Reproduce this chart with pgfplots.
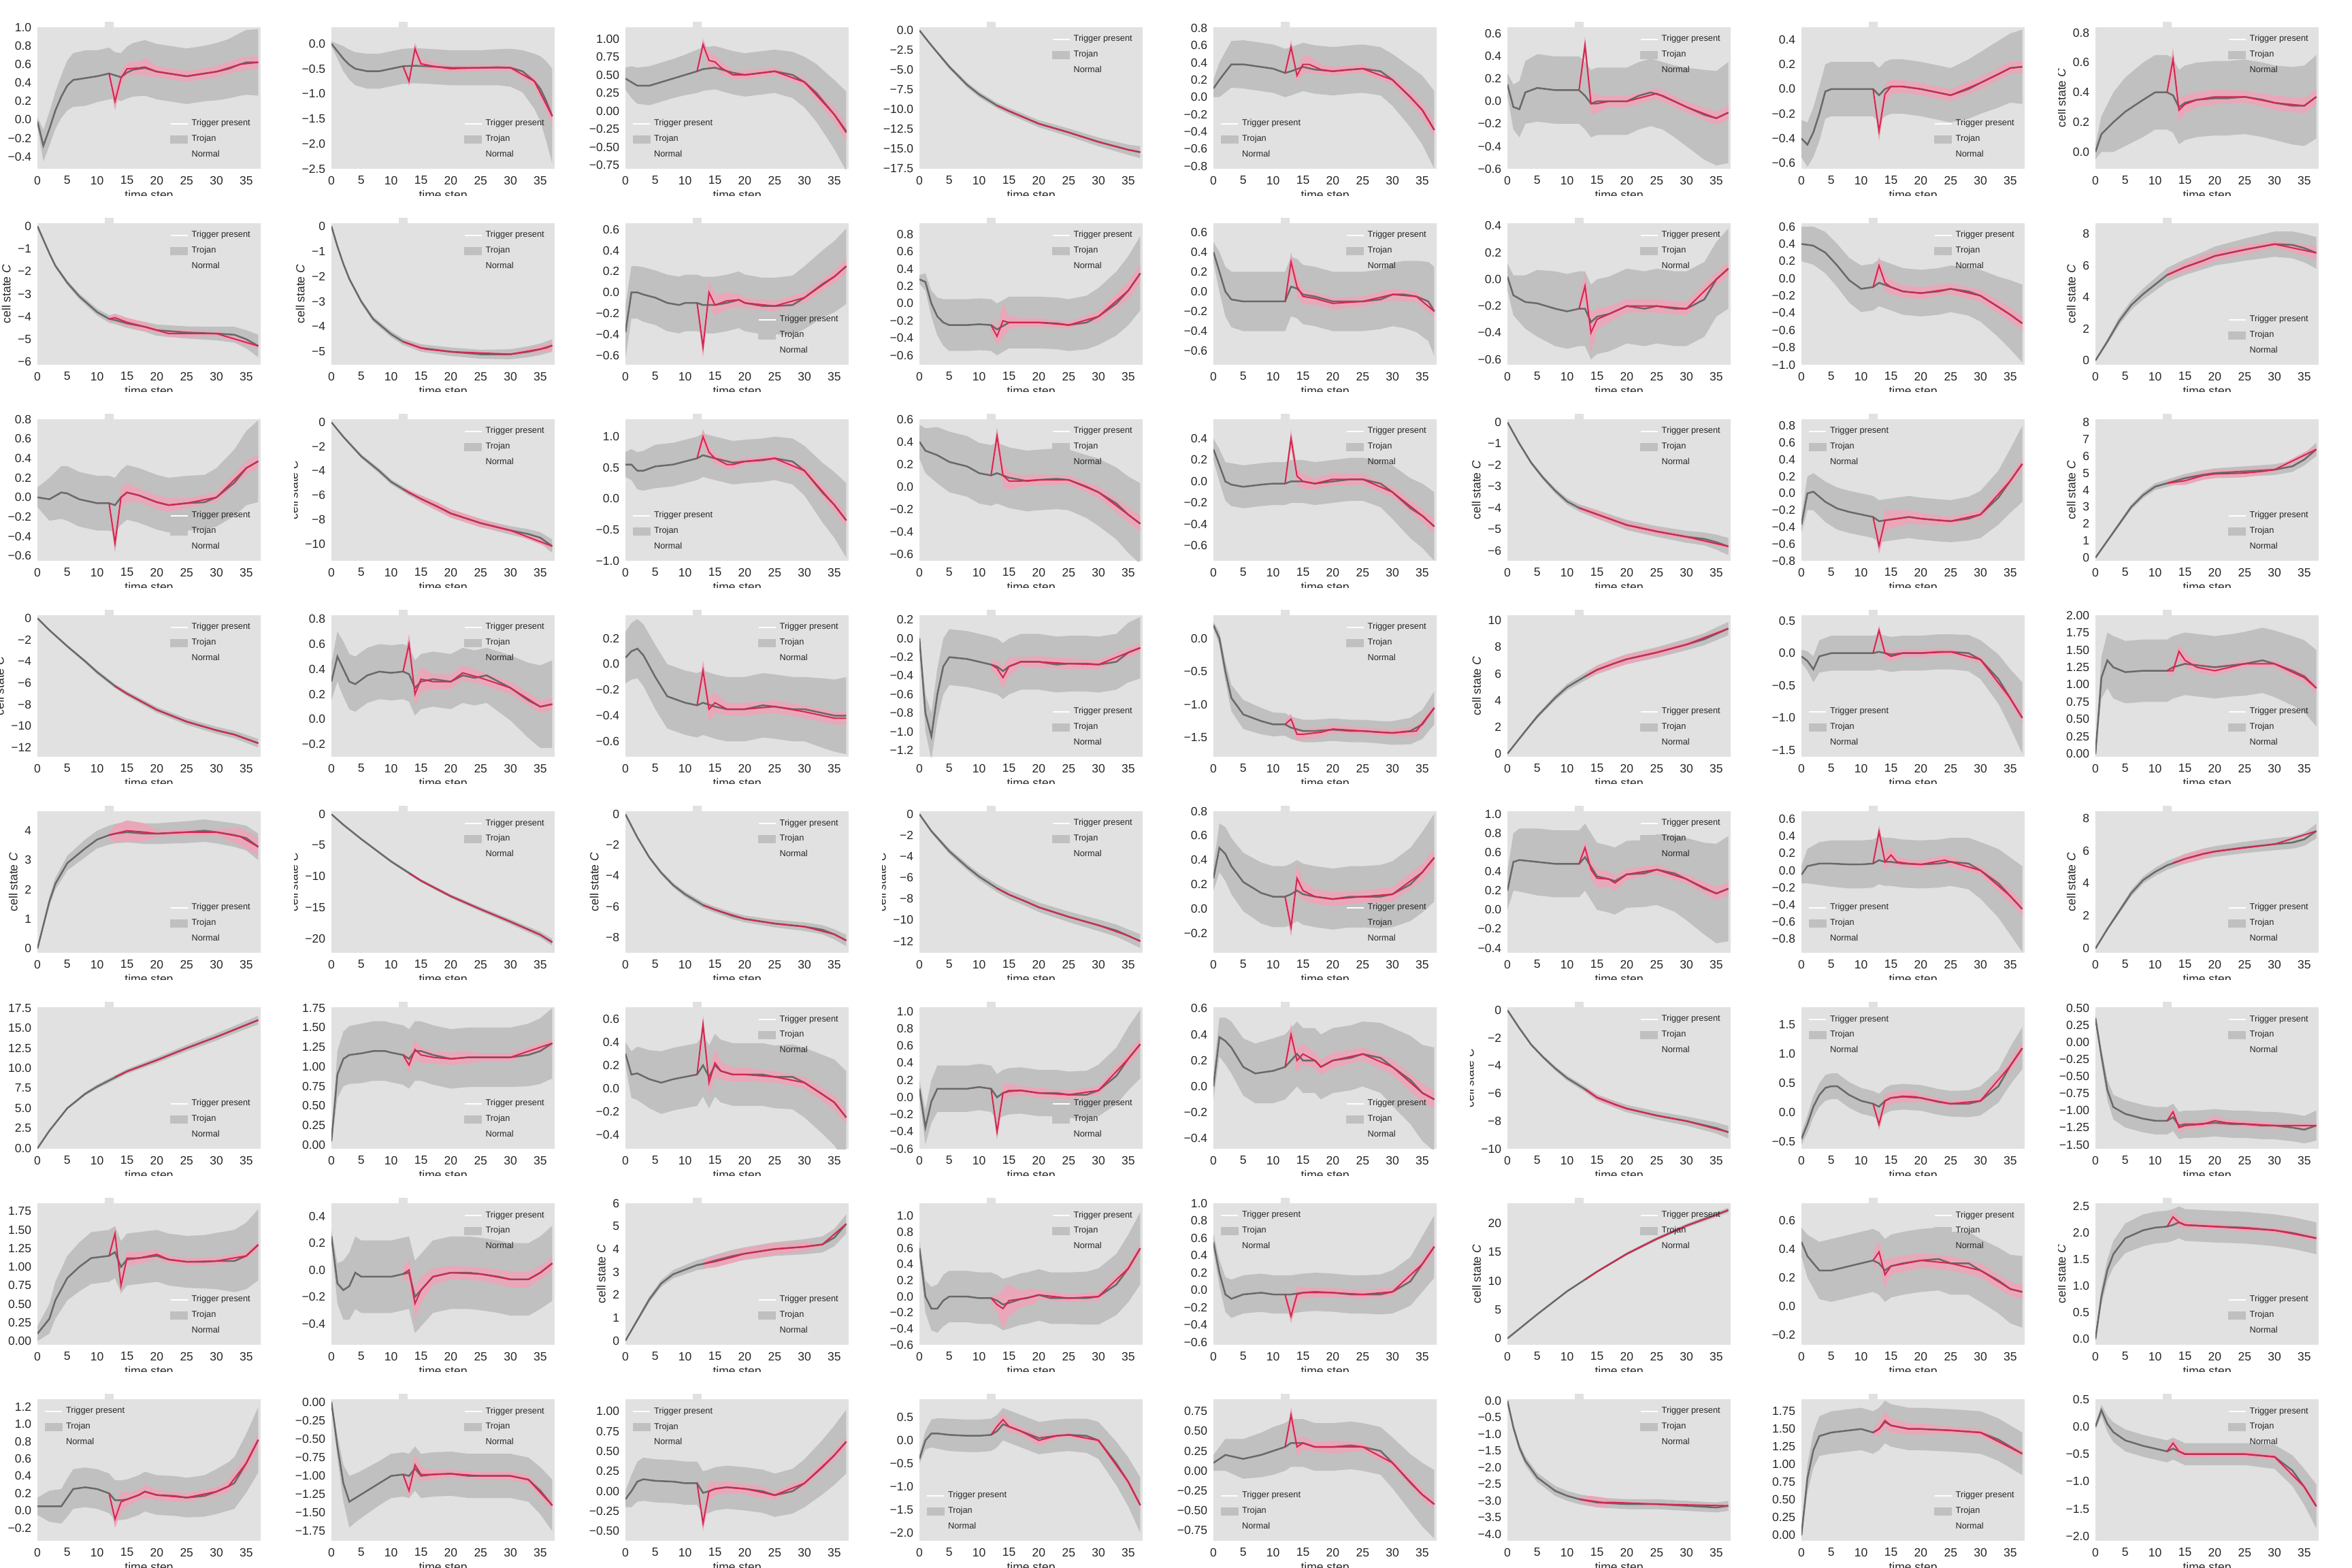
\documentclass[border=0pt]{standalone}
\usepackage{fontspec}
\setmainfont{Liberation Sans}
\usepackage{pgfplots}
\pgfplotsset{compat=1.18}
\usepgfplotslibrary{groupplots,fillbetween}
\usetikzlibrary{calc}

\definecolor{bgc}{RGB}{225,225,225}
\definecolor{bandc}{RGB}{192,192,192}
\definecolor{pinkc}{RGB}{232,168,185}
\definecolor{normc}{RGB}{105,105,105}
\definecolor{trojc}{RGB}{210,40,80}

% tick label with a real minus sign
\newcommand\mtick[1]{\pgfmathparse{(#1)<-0.00001}\ifdim\pgfmathresult pt>0.5pt −\fi\pgfmathparse{abs(#1)}\pgfmathprintnumber{\pgfmathresult}}

\pgfplotsset{
  LR/.style={legend style={at={(0.97,0.04)},anchor=south east}},
  UR/.style={legend style={at={(0.97,0.97)},anchor=north east}},
  UL/.style={legend style={at={(0.03,0.97)},anchor=north west}},
  LL/.style={legend style={at={(0.03,0.04)},anchor=south west}},
  Y/.style={ylabel={cell state \textit{C}}},
  P/.style={yticklabel style={/pgf/number format/.cd,fixed,fixed zerofill,precision=#1}},
}

% #1 ymin #2 ymax #3 yticks #4 decimals #5 legend place (+Y) #6 normal (x m s) #7 trojan (x t w)
\newcommand\subp[7]{%
\nextgroupplot[ymin=#1,ymax=#2,ytick={#3},P=#4,#5]
\addlegendimage{legend image code/.code={\draw[white,line width=0.7pt](0pt,0pt)--(10pt,0pt);}}\addlegendentry{Trigger present}
\addlegendimage{legend image code/.code={\fill[bandc](0pt,-2.2pt)rectangle(10pt,2.2pt);}}\addlegendentry{Trojan}
\addlegendimage{legend image code/.code={}}\addlegendentry{Normal}
\addplot[draw=none,forget plot,name path=nu] table[row sep=\\,y expr=\thisrow{m}+\thisrow{s}]{x m s\\#6};
\addplot[draw=none,forget plot,name path=nl] table[row sep=\\,y expr=\thisrow{m}-\thisrow{s}]{x m s\\#6};
\addplot[fill=bandc,draw=none,forget plot] fill between[of=nu and nl];
\addplot[draw=none,forget plot,name path=tu] table[row sep=\\,y expr=\thisrow{t}+\thisrow{w}]{x t w\\#7};
\addplot[draw=none,forget plot,name path=tl] table[row sep=\\,y expr=\thisrow{t}-\thisrow{w}]{x t w\\#7};
\addplot[fill=pinkc,draw=none,forget plot] fill between[of=tu and tl];
\addplot[normc,line width=1pt,forget plot] table[row sep=\\,y=m]{x m s\\#6};
\addplot[trojc,line width=0.8pt,forget plot] table[row sep=\\,y=t]{x t w\\#7};
}

\begin{document}
\begin{tikzpicture}
\begin{groupplot}[
  group style={group size=8 by 8,horizontal sep=41.6pt,vertical sep=32pt,group name=G},
  scale only axis,width=131.2pt,height=83.2pt,
  xmin=0,xmax=37.4,xtick={0,5,10,15,20,25,30,35},
  axis background/.style={fill=bgc},
  axis line style={draw=none},major tick length=0pt,
  tick label style={font=\fontsize{7}{8}\selectfont,text=black!85},
  xticklabel style={yshift=-0.8pt},
  /pgf/number format/assume math mode=true,
  scaled y ticks=false,
  yticklabel={\mtick{\tick}},
  xlabel={time step},xlabel shift=-3.6pt,ylabel shift=-2.6pt,
  label style={font=\fontsize{7}{8}\selectfont,text=black!85},
  legend style={draw=none,fill=none,font=\fontsize{5.1}{6}\selectfont,text=black!85,
    legend cell align=left,row sep=0pt,inner sep=0pt},
]
% ---------------- row 1
\subp{-0.53}{1.0}{-0.4,-0.2,0,0.2,0.4,0.6,0.8,1.0}{1}{LR}
{0 -0.02 0.05\\1 -0.28 0.17\\2 -0.1 0.18\\3 0.1 0.2\\4 0.25 0.23\\5 0.37 0.27\\6 0.43 0.29\\8 0.45 0.3\\10 0.47 0.28\\12 0.5 0.28\\13 0.48 0.25\\14 0.46 0.26\\15 0.51 0.28\\16 0.54 0.29\\18 0.56 0.3\\20 0.52 0.3\\22 0.5 0.3\\25 0.47 0.3\\28 0.5 0.3\\30 0.52 0.31\\32 0.55 0.32\\34 0.6 0.34\\35 0.62 0.35\\37 0.62 0.36\\}
{12 0.5 0.06\\13 0.2 0.1\\14 0.45 0.08\\15 0.55 0.07\\17 0.56 0.07\\18 0.57 0.1\\20 0.52 0.06\\25 0.47 0.06\\30 0.52 0.06\\34 0.6 0.07\\37 0.62 0.07\\}
\subp{-2.5}{0.33}{-2.5,-2.0,-1.5,-1.0,-0.5,0}{1}{LR}
{0 0.0 0.05\\1 -0.15 0.15\\2 -0.3 0.25\\3 -0.42 0.3\\4 -0.5 0.33\\6 -0.55 0.35\\8 -0.55 0.35\\10 -0.5 0.35\\12 -0.45 0.35\\14 -0.44 0.35\\16 -0.45 0.35\\20 -0.48 0.35\\25 -0.48 0.35\\28 -0.47 0.36\\30 -0.48 0.38\\32 -0.55 0.42\\34 -0.75 0.55\\35 -0.9 0.65\\36 -1.15 0.8\\37 -1.45 0.95\\}
{12 -0.45 0.08\\13 -0.75 0.1\\14 -0.1 0.12\\15 -0.4 0.1\\17 -0.45 0.08\\20 -0.5 0.07\\25 -0.48 0.06\\30 -0.48 0.06\\34 -0.75 0.1\\37 -1.45 0.15\\}
\subp{-0.8}{1.16}{-0.75,-0.5,-0.25,0,0.25,0.5,0.75,1.0}{2}{LL}
{0 0.45 0.15\\1 0.4 0.22\\2 0.35 0.25\\4 0.35 0.27\\6 0.4 0.27\\8 0.45 0.27\\10 0.5 0.28\\12 0.55 0.3\\13 0.58 0.3\\15 0.6 0.3\\18 0.53 0.3\\20 0.5 0.3\\22 0.52 0.3\\25 0.55 0.3\\28 0.5 0.32\\30 0.4 0.35\\32 0.25 0.4\\34 0.05 0.45\\35 -0.05 0.48\\37 -0.28 0.55\\}
{12 0.55 0.06\\13 0.92 0.08\\14 0.7 0.1\\15 0.68 0.1\\16 0.6 0.08\\18 0.5 0.06\\20 0.5 0.06\\25 0.55 0.05\\30 0.4 0.06\\35 -0.05 0.1\\37 -0.3 0.12\\}
\subp{-17.5}{0.4}{-17.5,-15,-12.5,-10,-7.5,-5,-2.5,0}{1}{UR}
{0 0 0.05\\2 -1.9 0.15\\5 -4.6 0.25\\8 -6.9 0.3\\10 -8.1 0.35\\13 -9.5 0.35\\15 -10.2 0.4\\20 -11.8 0.45\\25 -12.9 0.5\\30 -14.1 0.55\\35 -15.1 0.65\\37 -15.4 0.75\\}
{13 -9.5 0.05\\15 -10.2 0.05\\20 -11.8 0.05\\25 -12.9 0.05\\30 -14.1 0.05\\35 -15.1 0.05\\37 -15.4 0.05\\}
\subp{-0.83}{0.81}{-0.8,-0.6,-0.4,-0.2,0,0.2,0.4,0.6,0.8}{1}{LL}
{0 0.1 0.1\\1 0.2 0.2\\3 0.38 0.27\\5 0.38 0.28\\8 0.35 0.28\\10 0.33 0.28\\12 0.28 0.28\\13 0.3 0.28\\15 0.35 0.28\\17 0.32 0.28\\20 0.3 0.28\\23 0.32 0.28\\25 0.33 0.28\\28 0.3 0.28\\30 0.2 0.3\\33 0.0 0.35\\35 -0.15 0.4\\37 -0.38 0.45\\}
{12 0.28 0.06\\13 0.58 0.08\\14 0.25 0.08\\15 0.38 0.1\\16 0.38 0.1\\18 0.32 0.06\\20 0.3 0.05\\25 0.33 0.05\\30 0.2 0.05\\33 0.0 0.07\\35 -0.15 0.08\\37 -0.38 0.08\\}
\subp{-0.6}{0.66}{-0.6,-0.4,-0.2,0,0.2,0.4,0.6}{1}{UR}
{0 0.15 0.1\\1 -0.05 0.2\\2 -0.07 0.25\\3 0.08 0.28\\5 0.12 0.3\\8 0.1 0.3\\10 0.1 0.3\\12 0.1 0.3\\13 0.05 0.3\\14 -0.02 0.3\\15 0.0 0.3\\17 0.0 0.3\\20 0.0 0.3\\22 0.05 0.3\\24 0.08 0.3\\26 0.05 0.3\\28 0.0 0.32\\30 -0.05 0.35\\33 -0.12 0.4\\35 -0.15 0.42\\37 -0.1 0.45\\}
{12 0.1 0.05\\13 0.5 0.08\\14 -0.02 0.1\\15 -0.02 0.08\\17 0.0 0.05\\20 0.0 0.05\\25 0.07 0.05\\30 -0.05 0.05\\35 -0.15 0.06\\37 -0.1 0.06\\}
\subp{-0.645}{0.5}{-0.6,-0.4,-0.2,0,0.2,0.4}{1}{LR}
{0 -0.4 0.15\\1 -0.45 0.18\\2 -0.35 0.2\\3 -0.2 0.22\\4 -0.02 0.22\\5 0.0 0.22\\8 0.0 0.22\\10 0.0 0.22\\12 0.0 0.22\\13 -0.05 0.22\\14 0.0 0.22\\15 0.02 0.22\\17 0.02 0.22\\20 0.0 0.22\\23 -0.03 0.22\\25 -0.05 0.22\\28 0.0 0.24\\30 0.05 0.25\\33 0.12 0.27\\35 0.17 0.28\\37 0.18 0.3\\}
{12 0.0 0.05\\13 -0.34 0.08\\14 -0.04 0.08\\15 0.02 0.06\\17 0.02 0.05\\20 0.0 0.05\\25 -0.05 0.05\\30 0.05 0.05\\35 0.17 0.05\\37 0.18 0.05\\}
\subp{-0.113}{0.837}{0,0.2,0.4,0.6,0.8}{1}{UR,Y}
{0 0.0 0.05\\1 0.12 0.12\\3 0.2 0.2\\5 0.27 0.23\\8 0.35 0.25\\10 0.4 0.25\\12 0.4 0.25\\13 0.38 0.25\\14 0.3 0.25\\15 0.33 0.25\\17 0.35 0.25\\20 0.36 0.25\\22 0.36 0.25\\25 0.37 0.25\\28 0.35 0.25\\30 0.33 0.25\\33 0.31 0.26\\35 0.31 0.27\\37 0.37 0.28\\}
{12 0.4 0.06\\13 0.62 0.08\\14 0.28 0.08\\15 0.32 0.06\\17 0.35 0.05\\20 0.37 0.05\\25 0.37 0.04\\30 0.33 0.05\\35 0.31 0.05\\37 0.37 0.05\\}
% ---------------- row 2
\subp{-6.13}{0.13}{-6,-5,-4,-3,-2,-1,0}{0}{UR,Y}
{0 0 0.02\\1 -0.6 0.05\\2 -1.2 0.07\\3 -1.75 0.08\\5 -2.5 0.1\\7 -3.1 0.12\\10 -3.8 0.15\\12 -4.1 0.17\\13 -4.15 0.18\\15 -4.3 0.2\\18 -4.45 0.22\\20 -4.6 0.25\\25 -4.7 0.27\\30 -4.75 0.3\\33 -4.8 0.35\\35 -5.0 0.4\\37 -5.3 0.5\\}
{12 -4.1 0.15\\13 -4.05 0.18\\15 -4.25 0.2\\18 -4.45 0.2\\20 -4.6 0.1\\22 -4.75 0.15\\26 -4.75 0.15\\30 -4.75 0.1\\37 -5.3 0.1\\}
\subp{-5.52}{0.12}{-5,-4,-3,-2,-1,0}{0}{UR,Y}
{0 0 0.02\\1 -0.8 0.05\\2 -1.5 0.06\\3 -2.1 0.07\\5 -3.0 0.08\\7 -3.7 0.1\\10 -4.3 0.12\\12 -4.6 0.13\\15 -4.85 0.15\\20 -5.0 0.17\\25 -5.1 0.18\\30 -5.1 0.2\\33 -5.0 0.22\\35 -4.9 0.23\\37 -4.75 0.25\\}
{12 -4.6 0.05\\15 -4.85 0.12\\16 -4.9 0.05\\20 -5.0 0.05\\30 -5.1 0.05\\36 -4.85 0.15\\37 -4.75 0.2\\}
\subp{-0.69}{0.66}{-0.6,-0.4,-0.2,0,0.2,0.4,0.6}{1}{LR}
{0 -0.38 0.25\\1 0.0 0.25\\2 0.0 0.25\\3 -0.02 0.26\\5 -0.05 0.26\\7 -0.1 0.27\\9 -0.12 0.27\\10 -0.1 0.27\\12 -0.1 0.27\\13 -0.12 0.27\\15 -0.12 0.27\\17 -0.1 0.27\\19 -0.07 0.27\\20 -0.1 0.27\\23 -0.13 0.27\\25 -0.13 0.27\\28 -0.12 0.28\\30 -0.05 0.3\\33 0.08 0.32\\35 0.15 0.34\\37 0.25 0.36\\}
{12 -0.1 0.06\\13 -0.52 0.1\\14 0.0 0.12\\15 -0.12 0.1\\17 -0.08 0.08\\19 -0.07 0.06\\20 -0.1 0.05\\25 -0.13 0.05\\30 -0.05 0.05\\35 0.15 0.06\\37 0.25 0.07\\}
\subp{-0.71}{0.93}{-0.6,-0.4,-0.2,0,0.2,0.4,0.6,0.8}{1}{UR}
{0 0.28 0.05\\1 0.25 0.1\\2 0.0 0.15\\3 -0.15 0.22\\4 -0.22 0.27\\5 -0.25 0.3\\8 -0.25 0.3\\10 -0.24 0.3\\12 -0.25 0.3\\13 -0.3 0.3\\15 -0.22 0.3\\17 -0.22 0.3\\20 -0.22 0.3\\23 -0.23 0.3\\25 -0.25 0.3\\28 -0.22 0.31\\30 -0.15 0.33\\33 0.0 0.37\\35 0.15 0.4\\37 0.35 0.43\\}
{12 -0.25 0.06\\13 -0.38 0.1\\14 -0.2 0.2\\15 -0.22 0.08\\17 -0.22 0.05\\20 -0.22 0.05\\25 -0.25 0.04\\30 -0.15 0.06\\35 0.15 0.1\\37 0.35 0.1\\}
\subp{-0.74}{0.69}{-0.6,-0.4,-0.2,0,0.2,0.4,0.6}{1}{UR}
{0 0.4 0.1\\1 0.2 0.2\\2 0.0 0.25\\3 -0.08 0.28\\5 -0.1 0.3\\8 -0.1 0.3\\10 -0.1 0.3\\12 -0.1 0.3\\13 0.05 0.3\\14 0.03 0.3\\15 -0.03 0.3\\17 -0.05 0.3\\20 -0.1 0.3\\23 -0.1 0.3\\25 -0.1 0.3\\28 -0.08 0.3\\30 -0.03 0.32\\32 -0.03 0.34\\34 -0.05 0.36\\36 -0.1 0.4\\37 -0.2 0.45\\}
{12 -0.1 0.06\\13 0.3 0.1\\14 0.05 0.1\\15 -0.05 0.08\\17 -0.07 0.06\\20 -0.12 0.06\\25 -0.1 0.05\\30 -0.03 0.06\\34 -0.05 0.05\\37 -0.2 0.06\\}
\subp{-0.64}{0.42}{-0.6,-0.4,-0.2,0,0.2,0.4}{1}{UR}
{0 0.02 0.1\\1 -0.12 0.15\\3 -0.17 0.2\\5 -0.18 0.25\\8 -0.22 0.28\\10 -0.24 0.28\\12 -0.22 0.28\\13 -0.22 0.28\\14 -0.32 0.28\\15 -0.28 0.28\\17 -0.26 0.28\\20 -0.2 0.28\\23 -0.22 0.28\\25 -0.2 0.28\\28 -0.22 0.28\\30 -0.22 0.28\\33 -0.15 0.28\\35 0.0 0.28\\37 0.08 0.3\\}
{12 -0.22 0.05\\13 -0.05 0.1\\14 -0.4 0.15\\15 -0.3 0.08\\17 -0.26 0.06\\20 -0.2 0.05\\25 -0.2 0.05\\30 -0.22 0.05\\35 0.0 0.05\\37 0.08 0.05\\}
\subp{-1.0}{0.64}{-1.0,-0.8,-0.6,-0.4,-0.2,0,0.2,0.4,0.6}{1}{UR}
{0 0.4 0.2\\2 0.38 0.22\\4 0.3 0.24\\6 0.15 0.25\\8 -0.02 0.26\\10 -0.12 0.27\\12 -0.1 0.27\\13 -0.05 0.27\\15 -0.1 0.27\\17 -0.15 0.27\\20 -0.17 0.27\\23 -0.15 0.27\\25 -0.12 0.27\\28 -0.15 0.28\\30 -0.2 0.3\\33 -0.33 0.35\\35 -0.42 0.4\\37 -0.52 0.45\\}
{12 -0.1 0.06\\13 0.15 0.1\\14 -0.05 0.1\\15 -0.1 0.08\\17 -0.15 0.07\\20 -0.17 0.07\\25 -0.12 0.06\\30 -0.2 0.07\\35 -0.42 0.08\\37 -0.52 0.08\\}
\subp{-0.27}{8.67}{0,2,4,6,8}{0}{LR,Y}
{0 0 0.05\\2 1.2 0.15\\4 2.5 0.25\\6 3.5 0.3\\8 4.2 0.35\\10 4.8 0.4\\12 5.4 0.45\\15 5.9 0.5\\18 6.3 0.55\\20 6.6 0.6\\25 7.0 0.7\\30 7.35 0.8\\33 7.3 0.85\\35 7.1 0.9\\37 6.8 1.0\\}
{12 5.4 0.2\\15 5.9 0.3\\18 6.3 0.35\\20 6.6 0.3\\25 7.0 0.3\\30 7.35 0.2\\37 6.8 0.4\\}
% ---------------- row 3
\subp{-0.65}{0.8}{-0.6,-0.4,-0.2,0,0.2,0.4,0.6,0.8}{1}{LR}
{0 0.0 0.1\\2 -0.02 0.22\\4 0.05 0.27\\5 0.04 0.28\\7 -0.02 0.28\\10 -0.06 0.28\\12 -0.06 0.28\\13 -0.08 0.28\\14 0.0 0.28\\15 0.05 0.28\\17 0.02 0.28\\20 -0.05 0.28\\22 -0.08 0.28\\25 -0.06 0.28\\28 -0.05 0.28\\30 0.0 0.3\\33 0.15 0.34\\35 0.3 0.38\\37 0.37 0.42\\}
{12 -0.06 0.06\\13 -0.47 0.1\\14 0.0 0.1\\15 0.05 0.1\\17 0.02 0.07\\20 -0.05 0.07\\22 -0.08 0.07\\25 -0.06 0.05\\30 0.0 0.05\\35 0.3 0.07\\37 0.37 0.07\\}
\subp{-11.4}{0.25}{-10,-8,-6,-4,-2,0}{0}{UR,Y}
{0 0 0.05\\2 -1.2 0.1\\5 -2.8 0.15\\8 -4.0 0.2\\10 -4.9 0.2\\13 -5.8 0.22\\15 -6.3 0.25\\18 -7.0 0.27\\20 -7.5 0.3\\25 -8.3 0.32\\30 -8.9 0.35\\33 -9.2 0.4\\35 -9.5 0.45\\37 -10.2 0.55\\}
{12 -5.5 0.1\\15 -6.3 0.3\\18 -7.0 0.35\\20 -7.5 0.35\\25 -8.3 0.35\\30 -8.9 0.2\\37 -10.2 0.2\\}
\subp{-1.0}{1.28}{-1.0,-0.5,0,0.5,1.0}{1}{LL}
{0 0.55 0.2\\1 0.55 0.25\\2 0.45 0.3\\3 0.45 0.32\\5 0.52 0.35\\8 0.55 0.35\\10 0.6 0.35\\12 0.65 0.35\\13 0.7 0.35\\15 0.65 0.35\\18 0.58 0.35\\20 0.6 0.35\\23 0.62 0.35\\25 0.65 0.35\\28 0.6 0.37\\30 0.45 0.4\\33 0.1 0.48\\35 -0.1 0.53\\37 -0.35 0.6\\}
{12 0.65 0.06\\13 1.0 0.12\\14 0.75 0.1\\15 0.65 0.08\\17 0.55 0.08\\18 0.55 0.07\\20 0.6 0.05\\25 0.65 0.05\\30 0.45 0.08\\35 -0.1 0.1\\37 -0.35 0.1\\}
\subp{-0.66}{0.6}{-0.6,-0.4,-0.2,0,0.2,0.4,0.6}{1}{UR}
{0 0.4 0.15\\1 0.32 0.2\\3 0.28 0.25\\5 0.22 0.27\\8 0.18 0.27\\10 0.12 0.27\\12 0.1 0.27\\13 0.12 0.27\\15 0.08 0.27\\18 0.05 0.27\\20 0.06 0.27\\23 0.07 0.27\\25 0.06 0.27\\28 0.0 0.28\\30 -0.05 0.3\\33 -0.15 0.32\\35 -0.25 0.34\\37 -0.33 0.36\\}
{12 0.1 0.06\\13 0.45 0.08\\14 0.1 0.1\\15 0.05 0.08\\17 0.05 0.05\\20 0.06 0.05\\25 0.06 0.04\\30 -0.05 0.05\\35 -0.25 0.07\\37 -0.33 0.07\\}
\subp{-0.74}{0.58}{-0.6,-0.4,-0.2,0,0.2,0.4}{1}{UR}
{0 0.3 0.1\\1 0.15 0.15\\2 0.0 0.18\\3 -0.03 0.2\\5 -0.05 0.2\\8 -0.03 0.2\\10 -0.02 0.2\\12 -0.02 0.2\\13 0.0 0.2\\15 0.0 0.2\\17 -0.02 0.2\\20 0.0 0.2\\23 0.02 0.2\\25 0.02 0.2\\28 -0.02 0.22\\30 -0.1 0.25\\33 -0.25 0.28\\35 -0.32 0.3\\37 -0.42 0.32\\}
{12 -0.02 0.05\\13 0.4 0.08\\14 0.05 0.08\\15 0.0 0.07\\17 -0.02 0.05\\20 0.02 0.06\\25 0.02 0.05\\30 -0.1 0.05\\35 -0.32 0.06\\37 -0.42 0.07\\}
\subp{-6.47}{0.14}{-6,-5,-4,-3,-2,-1,0}{0}{UR,Y}
{0 0 0.03\\2 -1.0 0.06\\4 -1.9 0.08\\6 -2.6 0.1\\8 -3.2 0.12\\10 -3.7 0.15\\12 -4.0 0.17\\15 -4.3 0.2\\18 -4.6 0.22\\20 -4.8 0.24\\25 -5.1 0.25\\30 -5.35 0.28\\33 -5.45 0.3\\35 -5.6 0.35\\37 -5.8 0.4\\}
{12 -4.0 0.1\\15 -4.3 0.2\\18 -4.6 0.15\\20 -4.8 0.15\\25 -5.1 0.15\\30 -5.35 0.1\\37 -5.8 0.1\\}
\subp{-0.8}{0.88}{-0.8,-0.6,-0.4,-0.2,0,0.2,0.4,0.6,0.8}{1}{UL}
{0 -0.37 0.1\\1 0.0 0.2\\2 0.02 0.22\\4 -0.1 0.24\\6 -0.18 0.25\\8 -0.22 0.25\\10 -0.25 0.25\\12 -0.28 0.25\\13 -0.33 0.25\\14 -0.32 0.25\\16 -0.3 0.25\\18 -0.28 0.25\\20 -0.3 0.25\\23 -0.32 0.25\\25 -0.33 0.25\\28 -0.3 0.26\\30 -0.25 0.28\\33 -0.05 0.32\\35 0.15 0.38\\37 0.35 0.45\\}
{12 -0.28 0.05\\13 -0.62 0.1\\14 -0.32 0.12\\16 -0.3 0.1\\18 -0.28 0.08\\20 -0.3 0.07\\25 -0.33 0.05\\30 -0.25 0.05\\35 0.15 0.06\\37 0.35 0.06\\}
\subp{-0.18}{8.18}{0,1,2,3,4,5,6,7,8}{0}{LR,Y}
{0 0 0.03\\2 1.0 0.08\\4 2.0 0.12\\6 3.0 0.15\\8 3.7 0.18\\10 4.2 0.2\\12 4.4 0.22\\15 4.7 0.25\\18 4.9 0.27\\20 5.0 0.28\\25 5.1 0.3\\30 5.2 0.32\\33 5.4 0.33\\35 5.8 0.35\\37 6.4 0.4\\}
{12 4.4 0.1\\15 4.55 0.25\\18 4.85 0.25\\20 4.95 0.25\\25 5.0 0.25\\28 5.1 0.2\\30 5.2 0.1\\37 6.4 0.2\\}
% ---------------- row 4
\subp{-12.86}{0.28}{-12,-10,-8,-6,-4,-2,0}{0}{UR,Y}
{0 0 0.03\\2 -1.1 0.08\\5 -2.6 0.12\\8 -4.0 0.15\\10 -5.0 0.18\\13 -6.3 0.2\\15 -7.0 0.22\\18 -7.9 0.25\\20 -8.5 0.27\\25 -9.6 0.3\\30 -10.4 0.33\\33 -10.8 0.35\\35 -11.2 0.37\\37 -11.6 0.4\\}
{13 -6.3 0.05\\15 -7.0 0.05\\18 -7.9 0.05\\20 -8.5 0.05\\25 -9.6 0.05\\30 -10.4 0.05\\33 -10.8 0.05\\35 -11.2 0.05\\37 -11.6 0.05\\}
\subp{-0.3}{0.83}{-0.2,0,0.2,0.4,0.6,0.8}{1}{UR}
{0 0.3 0.15\\1 0.5 0.2\\2 0.4 0.22\\3 0.3 0.22\\4 0.28 0.22\\6 0.35 0.22\\8 0.38 0.22\\10 0.37 0.22\\12 0.38 0.22\\13 0.36 0.22\\14 0.25 0.22\\15 0.3 0.22\\17 0.32 0.22\\20 0.3 0.22\\22 0.35 0.22\\24 0.33 0.22\\26 0.35 0.22\\28 0.3 0.24\\30 0.25 0.26\\33 0.15 0.3\\35 0.1 0.33\\37 0.12 0.35\\}
{12 0.38 0.05\\13 0.6 0.08\\14 0.2 0.1\\15 0.32 0.1\\17 0.3 0.06\\20 0.3 0.06\\22 0.37 0.06\\25 0.33 0.05\\30 0.25 0.05\\35 0.1 0.05\\37 0.12 0.05\\}
\subp{-0.72}{0.38}{-0.6,-0.4,-0.2,0,0.2}{1}{UR}
{0 0.05 0.2\\1 0.1 0.22\\2 0.12 0.23\\3 0.07 0.24\\5 -0.1 0.25\\7 -0.25 0.25\\10 -0.3 0.25\\12 -0.32 0.25\\13 -0.3 0.25\\15 -0.33 0.25\\17 -0.35 0.25\\20 -0.35 0.25\\23 -0.32 0.25\\25 -0.33 0.25\\28 -0.35 0.25\\30 -0.35 0.25\\33 -0.38 0.27\\35 -0.4 0.28\\37 -0.4 0.3\\}
{12 -0.32 0.05\\13 -0.05 0.08\\14 -0.35 0.1\\15 -0.3 0.08\\17 -0.35 0.05\\20 -0.35 0.05\\25 -0.33 0.05\\30 -0.37 0.05\\35 -0.42 0.05\\37 -0.42 0.05\\}
\subp{-1.27}{0.25}{-1.2,-1.0,-0.8,-0.6,-0.4,-0.2,0,0.2}{1}{LR}
{0 0.0 0.05\\1 -0.8 0.2\\2 -1.05 0.25\\3 -0.6 0.28\\4 -0.3 0.3\\5 -0.2 0.3\\8 -0.22 0.3\\10 -0.25 0.3\\12 -0.28 0.3\\13 -0.3 0.3\\14 -0.35 0.3\\15 -0.3 0.3\\17 -0.25 0.3\\20 -0.25 0.3\\23 -0.28 0.3\\25 -0.27 0.3\\28 -0.27 0.3\\30 -0.28 0.3\\33 -0.25 0.3\\35 -0.15 0.32\\37 -0.1 0.33\\}
{12 -0.28 0.05\\13 -0.32 0.08\\14 -0.42 0.12\\15 -0.3 0.1\\17 -0.25 0.05\\20 -0.25 0.06\\25 -0.27 0.06\\30 -0.28 0.05\\35 -0.15 0.05\\37 -0.1 0.05\\}
\subp{-1.79}{0.35}{-1.5,-1.0,-0.5,0}{1}{UR}
{0 0.2 0.05\\1 0.0 0.1\\2 -0.5 0.15\\3 -0.9 0.2\\5 -1.15 0.22\\8 -1.25 0.2\\10 -1.3 0.18\\12 -1.3 0.17\\13 -1.35 0.17\\15 -1.4 0.17\\17 -1.4 0.17\\20 -1.38 0.17\\23 -1.4 0.17\\25 -1.4 0.17\\28 -1.42 0.17\\30 -1.43 0.18\\33 -1.4 0.2\\35 -1.3 0.22\\37 -1.05 0.25\\}
{12 -1.3 0.05\\13 -1.22 0.08\\14 -1.45 0.1\\15 -1.45 0.08\\18 -1.42 0.07\\20 -1.37 0.06\\25 -1.4 0.05\\30 -1.43 0.05\\34 -1.4 0.08\\37 -1.05 0.05\\}
\subp{-0.23}{10.4}{0,2,4,6,8,10}{0}{LR,Y}
{0 0 0.03\\3 1.7 0.1\\5 2.8 0.15\\8 4.2 0.2\\10 5.0 0.25\\13 5.8 0.3\\15 6.3 0.33\\18 6.8 0.36\\20 7.1 0.38\\25 7.6 0.4\\30 8.2 0.43\\33 8.6 0.45\\35 9.0 0.48\\37 9.4 0.5\\}
{13 5.8 0.1\\15 6.3 0.3\\18 6.8 0.35\\20 7.1 0.35\\25 7.6 0.3\\30 8.2 0.2\\37 9.4 0.1\\}
\subp{-1.6}{0.585}{-1.5,-1.0,-0.5,0,0.5}{1}{LL}
{0 -0.05 0.1\\1 -0.12 0.15\\2 -0.25 0.2\\3 -0.05 0.25\\5 0.0 0.27\\8 0.0 0.27\\10 0.0 0.27\\12 0.0 0.27\\13 0.02 0.27\\14 0.0 0.27\\15 -0.02 0.27\\17 0.0 0.27\\20 0.0 0.27\\23 0.02 0.27\\25 0.02 0.27\\28 0.0 0.28\\30 -0.1 0.3\\33 -0.4 0.38\\35 -0.7 0.45\\37 -1.0 0.55\\}
{12 0.0 0.05\\13 0.35 0.08\\14 0.0 0.1\\15 -0.05 0.08\\17 0.0 0.06\\20 0.0 0.06\\25 0.02 0.05\\30 -0.1 0.06\\35 -0.7 0.08\\37 -1.0 0.08\\}
\subp{-0.04}{2.0}{0,0.25,0.5,0.75,1.0,1.25,1.5,1.75,2.0}{2}{LR}
{0 0.0 0.05\\1 1.1 0.3\\2 1.35 0.4\\3 1.25 0.45\\5 1.18 0.45\\8 1.2 0.45\\10 1.2 0.45\\12 1.2 0.45\\13 1.25 0.45\\15 1.3 0.45\\17 1.28 0.45\\20 1.25 0.45\\23 1.28 0.45\\25 1.3 0.46\\28 1.35 0.47\\30 1.3 0.48\\33 1.2 0.5\\35 1.12 0.52\\37 0.95 0.55\\}
{12 1.2 0.05\\13 1.2 0.08\\14 1.48 0.1\\15 1.35 0.1\\17 1.25 0.07\\20 1.2 0.07\\25 1.3 0.05\\30 1.3 0.05\\35 1.1 0.07\\37 0.95 0.07\\}
% ---------------- row 5
\subp{-0.14}{4.66}{0,1,2,3,4}{0}{LR,Y}
{0 0 0.03\\1 0.8 0.1\\2 1.6 0.15\\3 2.2 0.2\\5 2.9 0.25\\8 3.4 0.3\\10 3.7 0.3\\12 3.85 0.32\\13 3.9 0.33\\15 3.95 0.35\\18 3.9 0.35\\20 3.9 0.35\\25 3.95 0.37\\28 4.0 0.38\\30 3.95 0.38\\33 3.85 0.4\\35 3.75 0.42\\37 3.45 0.45\\}
{12 3.85 0.1\\13 3.9 0.3\\15 4.0 0.35\\18 3.95 0.3\\20 3.9 0.1\\25 3.95 0.1\\30 3.95 0.1\\34 3.8 0.3\\37 3.45 0.3\\}
\subp{-22.3}{0.48}{-20,-15,-10,-5,0}{0}{UR,Y}
{0 0 0.05\\2 -1.7 0.1\\5 -4.0 0.15\\10 -7.6 0.2\\15 -10.7 0.25\\20 -13.2 0.3\\25 -15.3 0.35\\30 -17.3 0.4\\35 -19.4 0.5\\37 -20.6 0.55\\}
{13 -9.5 0.05\\15 -10.7 0.05\\20 -13.2 0.05\\25 -15.3 0.05\\30 -17.3 0.05\\35 -19.4 0.05\\37 -20.6 0.05\\}
\subp{-9.0}{0.2}{-8,-6,-4,-2,0}{0}{UR,Y}
{0 0 0.03\\2 -1.5 0.07\\4 -2.8 0.1\\6 -3.8 0.12\\8 -4.6 0.15\\10 -5.2 0.17\\13 -5.9 0.2\\15 -6.2 0.2\\18 -6.6 0.22\\20 -6.8 0.22\\25 -7.1 0.25\\30 -7.3 0.28\\33 -7.5 0.3\\35 -7.8 0.33\\37 -8.2 0.37\\}
{13 -5.9 0.05\\15 -6.2 0.05\\20 -6.8 0.05\\25 -7.1 0.05\\30 -7.3 0.05\\35 -7.8 0.05\\37 -8.2 0.05\\}
\subp{-13.1}{0.28}{-12,-10,-8,-6,-4,-2,0}{0}{UR,Y}
{0 0 0.05\\2 -1.6 0.15\\5 -3.5 0.25\\8 -5.0 0.3\\10 -5.9 0.33\\13 -7.0 0.37\\15 -7.6 0.4\\18 -8.3 0.42\\20 -8.8 0.45\\25 -9.7 0.5\\30 -10.5 0.55\\33 -11.0 0.57\\35 -11.5 0.6\\37 -12.0 0.65\\}
{13 -7.0 0.05\\15 -7.6 0.05\\18 -8.3 0.05\\20 -8.8 0.05\\25 -9.7 0.05\\30 -10.5 0.05\\35 -11.5 0.05\\37 -12.0 0.05\\}
\subp{-0.36}{0.8}{-0.2,0,0.2,0.4,0.6,0.8}{1}{LR}
{0 0.25 0.1\\1 0.5 0.2\\2 0.45 0.22\\3 0.35 0.23\\5 0.22 0.24\\8 0.13 0.25\\10 0.1 0.25\\12 0.1 0.25\\13 0.12 0.25\\14 0.15 0.25\\15 0.12 0.25\\17 0.1 0.25\\20 0.08 0.25\\23 0.1 0.25\\25 0.1 0.25\\28 0.1 0.26\\30 0.12 0.27\\33 0.2 0.3\\35 0.3 0.33\\37 0.42 0.36\\}
{12 0.1 0.05\\13 -0.15 0.08\\14 0.25 0.12\\15 0.15 0.08\\17 0.1 0.06\\20 0.08 0.06\\25 0.1 0.05\\30 0.12 0.06\\35 0.3 0.07\\37 0.42 0.07\\}
\subp{-0.45}{1.03}{-0.4,-0.2,0,0.2,0.4,0.6,0.8,1.0}{1}{UR}
{0 0.2 0.2\\1 0.5 0.3\\2 0.52 0.33\\5 0.5 0.35\\8 0.48 0.35\\10 0.48 0.35\\12 0.48 0.35\\13 0.55 0.35\\14 0.45 0.35\\15 0.35 0.35\\17 0.32 0.35\\18 0.3 0.35\\20 0.37 0.35\\23 0.38 0.35\\25 0.42 0.37\\28 0.38 0.4\\30 0.32 0.43\\33 0.22 0.48\\35 0.17 0.52\\37 0.22 0.55\\}
{12 0.48 0.05\\13 0.65 0.08\\14 0.42 0.1\\15 0.33 0.1\\17 0.32 0.08\\18 0.28 0.08\\20 0.37 0.06\\25 0.42 0.05\\30 0.32 0.05\\35 0.17 0.07\\37 0.22 0.07\\}
\subp{-0.96}{0.69}{-0.8,-0.6,-0.4,-0.2,0,0.2,0.4,0.6}{1}{LL}
{0 -0.05 0.1\\1 0.05 0.2\\3 0.08 0.25\\5 0.08 0.27\\8 0.07 0.28\\10 0.07 0.28\\12 0.08 0.28\\13 0.12 0.28\\14 0.1 0.28\\15 0.1 0.28\\17 0.08 0.28\\20 0.07 0.28\\23 0.08 0.28\\25 0.1 0.28\\28 0.08 0.3\\30 0.0 0.33\\33 -0.15 0.4\\35 -0.3 0.45\\37 -0.45 0.5\\}
{12 0.08 0.05\\13 0.45 0.08\\14 0.1 0.1\\15 0.18 0.1\\16 0.1 0.06\\18 0.08 0.05\\20 0.07 0.05\\24 0.12 0.06\\30 0.0 0.05\\35 -0.3 0.08\\37 -0.45 0.08\\}
\subp{-0.26}{8.42}{0,2,4,6,8}{0}{LR,Y}
{0 0 0.03\\2 1.2 0.1\\4 2.3 0.15\\6 3.4 0.2\\8 4.2 0.22\\10 4.7 0.25\\12 5.1 0.27\\15 5.5 0.3\\18 5.8 0.32\\20 5.95 0.33\\25 6.2 0.35\\30 6.4 0.37\\33 6.5 0.38\\35 6.7 0.4\\37 7.2 0.45\\}
{13 5.25 0.1\\15 5.5 0.3\\18 5.8 0.3\\20 5.95 0.1\\30 6.4 0.05\\37 7.2 0.05\\}
% ---------------- row 6
\subp{-0.05}{17.6}{0,2.5,5,7.5,10,12.5,15,17.5}{1}{LR}
{0 0 0.03\\2 2.2 0.1\\5 5.0 0.15\\8 6.8 0.2\\10 7.7 0.25\\15 9.6 0.3\\20 11.0 0.35\\25 12.5 0.4\\30 13.9 0.45\\35 15.4 0.5\\37 16.0 0.55\\}
{13 8.9 0.05\\15 9.6 0.05\\20 11.0 0.05\\25 12.5 0.05\\30 13.9 0.05\\35 15.4 0.05\\37 16.0 0.05\\}
\subp{-0.05}{1.76}{0,0.25,0.5,0.75,1.0,1.25,1.5,1.75}{2}{LR}
{0 0.05 0.05\\1 0.9 0.3\\2 1.1 0.35\\3 1.15 0.37\\5 1.17 0.38\\7 1.2 0.38\\9 1.2 0.38\\10 1.18 0.38\\12 1.15 0.38\\13 1.1 0.38\\14 1.2 0.38\\15 1.2 0.38\\17 1.15 0.38\\20 1.1 0.38\\23 1.12 0.38\\25 1.12 0.38\\28 1.12 0.38\\30 1.12 0.38\\33 1.15 0.4\\35 1.2 0.42\\37 1.3 0.45\\}
{12 1.15 0.05\\13 1.02 0.1\\14 1.22 0.12\\15 1.15 0.1\\17 1.12 0.08\\20 1.1 0.08\\23 1.12 0.08\\25 1.12 0.05\\30 1.12 0.05\\37 1.3 0.05\\}
\subp{-0.52}{0.7}{-0.4,-0.2,0,0.2,0.4,0.6}{1}{UR}
{0 0.3 0.1\\1 0.12 0.2\\2 0.13 0.23\\4 0.08 0.25\\6 0.05 0.27\\8 0.08 0.27\\10 0.1 0.27\\12 0.12 0.27\\13 0.2 0.27\\14 0.1 0.27\\15 0.2 0.27\\16 0.15 0.27\\18 0.12 0.27\\20 0.12 0.27\\23 0.12 0.27\\25 0.1 0.27\\28 0.1 0.28\\30 0.05 0.3\\33 -0.05 0.34\\35 -0.12 0.37\\37 -0.25 0.4\\}
{12 0.12 0.05\\13 0.55 0.08\\14 0.05 0.1\\15 0.22 0.12\\16 0.15 0.08\\18 0.12 0.06\\20 0.12 0.06\\25 0.1 0.05\\30 0.05 0.05\\35 -0.12 0.06\\37 -0.25 0.06\\}
\subp{-0.6}{1.05}{-0.6,-0.4,-0.2,0,0.2,0.4,0.6,0.8,1.0}{1}{LR}
{0 0.1 0.1\\1 -0.35 0.2\\2 -0.05 0.25\\3 0.1 0.27\\5 0.1 0.27\\8 0.1 0.27\\10 0.12 0.27\\12 0.1 0.27\\13 0.0 0.27\\14 0.05 0.27\\15 0.07 0.27\\17 0.08 0.27\\20 0.05 0.27\\23 0.05 0.27\\25 0.03 0.27\\28 0.03 0.28\\30 0.08 0.3\\33 0.25 0.33\\35 0.45 0.37\\37 0.62 0.4\\}
{12 0.1 0.05\\13 -0.4 0.1\\14 0.05 0.1\\15 0.08 0.08\\17 0.08 0.05\\20 0.05 0.06\\25 0.03 0.05\\30 0.08 0.05\\35 0.45 0.07\\37 0.62 0.07\\}
\subp{-0.48}{0.61}{-0.4,-0.2,0,0.2,0.4,0.6}{1}{LR}
{0 0.0 0.1\\1 0.38 0.15\\2 0.35 0.18\\3 0.3 0.2\\5 0.15 0.22\\7 0.1 0.23\\10 0.12 0.25\\12 0.15 0.25\\13 0.2 0.25\\14 0.25 0.25\\15 0.2 0.25\\17 0.2 0.25\\18 0.15 0.25\\20 0.2 0.25\\23 0.22 0.25\\25 0.25 0.25\\28 0.22 0.27\\30 0.15 0.3\\33 0.05 0.34\\35 -0.05 0.37\\37 -0.1 0.4\\}
{12 0.15 0.05\\13 0.4 0.08\\14 0.2 0.1\\15 0.25 0.08\\17 0.2 0.06\\18 0.15 0.06\\20 0.2 0.06\\25 0.25 0.05\\30 0.15 0.06\\35 -0.05 0.07\\37 -0.1 0.07\\}
\subp{-10}{0.21}{-10,-8,-6,-4,-2,0}{0}{UR,Y}
{0 0 0.03\\2 -1.3 0.08\\4 -2.5 0.1\\6 -3.4 0.12\\8 -4.2 0.15\\10 -4.9 0.18\\13 -5.7 0.2\\15 -6.3 0.22\\18 -6.8 0.25\\20 -7.1 0.27\\25 -7.6 0.3\\30 -8.0 0.33\\33 -8.3 0.37\\35 -8.5 0.4\\37 -8.8 0.45\\}
{13 -5.7 0.1\\15 -6.3 0.2\\18 -6.8 0.2\\20 -7.1 0.1\\25 -7.6 0.05\\30 -8.0 0.05\\37 -8.8 0.05\\}
\subp{-0.62}{1.8}{-0.5,0,0.5,1.0,1.5}{1}{UL}
{0 -0.45 0.1\\1 -0.2 0.15\\2 0.1 0.18\\3 0.3 0.2\\4 0.42 0.22\\5 0.45 0.22\\6 0.45 0.22\\8 0.3 0.22\\10 0.2 0.22\\12 0.15 0.22\\13 0.1 0.22\\14 0.2 0.22\\15 0.25 0.22\\17 0.27 0.22\\20 0.25 0.22\\23 0.18 0.22\\25 0.15 0.22\\28 0.15 0.23\\30 0.2 0.25\\33 0.45 0.28\\35 0.8 0.32\\37 1.1 0.36\\}
{12 0.15 0.05\\13 -0.2 0.1\\14 0.2 0.12\\15 0.25 0.1\\17 0.28 0.1\\19 0.27 0.1\\20 0.25 0.06\\25 0.15 0.05\\30 0.2 0.05\\35 0.8 0.1\\37 1.1 0.1\\}
\subp{-1.56}{0.51}{-1.5,-1.25,-1.0,-0.75,-0.5,-0.25,0,0.25,0.5}{2}{UR}
{0 0.35 0.05\\1 -0.2 0.1\\2 -0.7 0.15\\3 -0.95 0.18\\5 -1.05 0.2\\8 -1.12 0.2\\10 -1.15 0.2\\12 -1.15 0.2\\13 -1.1 0.2\\14 -1.22 0.2\\15 -1.2 0.2\\17 -1.2 0.2\\20 -1.18 0.2\\23 -1.2 0.2\\25 -1.2 0.2\\28 -1.22 0.2\\30 -1.22 0.2\\33 -1.25 0.2\\35 -1.28 0.2\\37 -1.22 0.22\\}
{12 -1.15 0.03\\13 -1.02 0.08\\14 -1.25 0.08\\15 -1.22 0.06\\18 -1.2 0.05\\20 -1.15 0.07\\22 -1.18 0.05\\30 -1.22 0.04\\37 -1.22 0.04\\}
% ---------------- row 7
\subp{-0.05}{1.86}{0,0.25,0.5,0.75,1.0,1.25,1.5,1.75}{2}{LR}
{0 0.1 0.1\\1 0.2 0.15\\2 0.3 0.2\\3 0.55 0.25\\5 0.85 0.3\\7 1.0 0.33\\9 1.12 0.35\\10 1.13 0.35\\12 1.15 0.35\\13 1.2 0.35\\14 1.0 0.35\\15 1.1 0.35\\17 1.12 0.35\\20 1.15 0.35\\22 1.1 0.35\\25 1.07 0.35\\28 1.07 0.36\\30 1.08 0.38\\33 1.08 0.42\\35 1.15 0.45\\37 1.3 0.48\\}
{12 1.15 0.05\\13 1.45 0.1\\14 0.75 0.12\\15 1.12 0.1\\17 1.12 0.08\\20 1.17 0.07\\22 1.1 0.05\\25 1.07 0.05\\30 1.08 0.05\\35 1.15 0.05\\37 1.3 0.05\\}
\subp{-0.557}{0.497}{-0.4,-0.2,0,0.2,0.4}{1}{UR}
{0 0.25 0.05\\1 -0.1 0.15\\2 -0.15 0.22\\3 -0.12 0.25\\4 -0.02 0.27\\5 -0.05 0.27\\8 -0.05 0.27\\10 -0.05 0.27\\12 -0.03 0.27\\13 -0.02 0.27\\14 -0.2 0.27\\15 -0.15 0.27\\17 -0.05 0.27\\20 -0.02 0.27\\23 -0.02 0.27\\25 -0.03 0.27\\28 -0.05 0.27\\30 -0.07 0.27\\33 -0.07 0.27\\35 -0.02 0.27\\37 0.05 0.28\\}
{12 -0.03 0.05\\13 0.0 0.08\\14 -0.25 0.12\\15 -0.15 0.1\\17 -0.05 0.06\\20 -0.02 0.05\\25 -0.03 0.05\\30 -0.07 0.06\\33 -0.07 0.06\\35 -0.02 0.05\\37 0.05 0.05\\}
\subp{-0.18}{6.0}{0,1,2,3,4,5,6}{0}{LR,Y}
{0 0 0.03\\2 0.9 0.08\\4 1.8 0.12\\6 2.5 0.15\\8 2.9 0.18\\10 3.1 0.2\\12 3.3 0.22\\13 3.35 0.23\\15 3.5 0.25\\18 3.7 0.27\\20 3.8 0.28\\25 4.0 0.3\\30 4.1 0.33\\33 4.2 0.35\\35 4.5 0.38\\37 5.1 0.42\\}
{13 3.35 0.2\\15 3.45 0.25\\18 3.65 0.25\\20 3.8 0.25\\25 4.0 0.25\\30 4.1 0.2\\33 4.2 0.05\\37 5.1 0.05\\}
\subp{-0.6}{1.16}{-0.6,-0.4,-0.2,0,0.2,0.4,0.6,0.8,1.0}{1}{UR}
{0 0.6 0.1\\1 0.0 0.2\\2 -0.15 0.27\\3 -0.15 0.3\\4 -0.05 0.32\\5 0.0 0.32\\8 0.0 0.32\\10 -0.02 0.32\\12 -0.02 0.32\\13 -0.05 0.32\\14 -0.1 0.32\\15 -0.08 0.32\\17 -0.03 0.32\\18 -0.02 0.32\\20 0.02 0.32\\22 -0.02 0.32\\25 -0.02 0.32\\28 -0.02 0.33\\30 0.0 0.35\\33 0.15 0.38\\35 0.35 0.42\\37 0.6 0.45\\}
{12 -0.02 0.05\\13 -0.1 0.1\\14 -0.15 0.25\\15 -0.05 0.2\\17 -0.03 0.1\\19 0.0 0.1\\20 0.02 0.06\\25 -0.02 0.05\\30 0.0 0.05\\35 0.35 0.06\\37 0.6 0.06\\}
\subp{-0.63}{1.0}{-0.6,-0.4,-0.2,0,0.2,0.4,0.6,0.8,1.0}{1}{UL}
{0 0.55 0.1\\1 0.2 0.15\\2 -0.05 0.2\\3 -0.1 0.22\\5 -0.05 0.22\\8 -0.03 0.22\\10 -0.05 0.22\\12 -0.05 0.22\\13 -0.05 0.22\\15 -0.03 0.22\\17 -0.02 0.22\\20 -0.03 0.22\\23 -0.05 0.22\\25 -0.05 0.22\\28 -0.05 0.23\\30 -0.02 0.25\\33 0.1 0.28\\35 0.3 0.32\\37 0.5 0.36\\}
{12 -0.05 0.05\\13 -0.3 0.08\\14 -0.05 0.1\\15 -0.03 0.06\\20 -0.03 0.05\\25 -0.05 0.05\\30 -0.02 0.05\\35 0.3 0.06\\37 0.5 0.06\\}
\subp{-1.1}{23.5}{0,5,10,15,20}{0}{UR,Y}
{0 0 0.05\\5 4.2 0.1\\10 8.2 0.15\\15 11.6 0.2\\20 14.7 0.25\\25 17.3 0.3\\30 19.6 0.35\\35 21.5 0.4\\37 22.3 0.45\\}
{13 10.2 0.05\\15 11.6 0.05\\20 14.7 0.05\\25 17.3 0.05\\30 19.6 0.05\\35 21.5 0.05\\37 22.3 0.05\\}
\subp{-0.27}{0.72}{-0.2,0,0.2,0.4,0.6}{1}{UR}
{0 0.45 0.1\\1 0.35 0.15\\3 0.25 0.2\\5 0.25 0.22\\8 0.28 0.22\\10 0.3 0.22\\12 0.32 0.22\\13 0.3 0.22\\14 0.25 0.22\\15 0.28 0.22\\17 0.3 0.22\\20 0.32 0.22\\23 0.33 0.22\\25 0.3 0.22\\28 0.3 0.22\\30 0.25 0.22\\33 0.18 0.23\\35 0.12 0.24\\37 0.1 0.25\\}
{12 0.32 0.05\\13 0.38 0.08\\14 0.22 0.1\\15 0.28 0.06\\20 0.32 0.05\\25 0.3 0.05\\30 0.25 0.05\\35 0.12 0.05\\37 0.1 0.05\\}
\subp{-0.11}{2.56}{0,0.5,1.0,1.5,2.0,2.5}{1}{LR,Y}
{0 0.0 0.05\\1 0.8 0.15\\2 1.3 0.2\\3 1.6 0.25\\5 1.9 0.28\\8 2.05 0.3\\10 2.1 0.3\\12 2.12 0.3\\13 2.15 0.3\\14 2.2 0.3\\15 2.15 0.3\\20 2.12 0.3\\25 2.1 0.3\\30 2.05 0.3\\33 2.0 0.3\\35 1.95 0.3\\37 1.9 0.3\\}
{12 2.12 0.05\\13 2.3 0.1\\14 2.2 0.1\\15 2.15 0.06\\20 2.12 0.05\\30 2.05 0.05\\37 1.9 0.05\\}
% ---------------- row 8
\subp{-0.35}{1.29}{-0.2,0,0.2,0.4,0.6,0.8,1.0,1.2}{1}{UL}
{0 0.05 0.1\\2 0.05 0.18\\4 0.05 0.2\\5 0.15 0.22\\6 0.25 0.23\\8 0.27 0.23\\10 0.25 0.23\\12 0.2 0.23\\13 0.12 0.23\\14 0.12 0.23\\15 0.13 0.23\\17 0.18 0.23\\18 0.22 0.23\\20 0.18 0.23\\23 0.17 0.23\\25 0.15 0.23\\28 0.17 0.24\\30 0.22 0.26\\32 0.28 0.28\\33 0.32 0.3\\35 0.55 0.34\\37 0.82 0.38\\}
{12 0.2 0.05\\13 -0.1 0.1\\14 0.1 0.12\\15 0.13 0.08\\17 0.18 0.06\\18 0.22 0.08\\20 0.18 0.06\\25 0.15 0.05\\30 0.22 0.05\\32 0.28 0.07\\35 0.55 0.08\\37 0.82 0.08\\}
\subp{-1.88}{0.04}{-1.75,-1.5,-1.25,-1.0,-0.75,-0.5,-0.25,0}{2}{UR}
{0 0.0 0.05\\1 -0.6 0.15\\2 -1.1 0.25\\3 -1.35 0.35\\4 -1.3 0.33\\5 -1.25 0.32\\8 -1.1 0.3\\10 -1.0 0.3\\12 -0.98 0.3\\13 -1.0 0.3\\14 -0.9 0.3\\15 -1.0 0.3\\17 -0.98 0.3\\20 -0.97 0.3\\23 -1.0 0.3\\25 -1.0 0.3\\28 -1.0 0.3\\30 -1.0 0.3\\33 -1.05 0.3\\35 -1.2 0.32\\37 -1.4 0.35\\}
{12 -0.98 0.05\\13 -1.2 0.1\\14 -0.85 0.15\\15 -0.98 0.1\\17 -0.98 0.06\\20 -0.97 0.05\\25 -1.0 0.05\\30 -1.0 0.06\\33 -1.05 0.06\\37 -1.4 0.06\\}
\subp{-0.62}{1.15}{-0.5,-0.25,0,0.25,0.5,0.75,1.0}{2}{UL}
{0 -0.1 0.1\\1 0.0 0.2\\2 0.12 0.25\\3 0.15 0.27\\5 0.13 0.27\\8 0.12 0.27\\10 0.1 0.27\\12 0.1 0.27\\13 -0.02 0.27\\14 0.0 0.27\\15 0.03 0.27\\17 0.05 0.27\\20 0.03 0.27\\23 0.0 0.27\\25 -0.05 0.27\\28 0.0 0.28\\30 0.1 0.3\\33 0.3 0.34\\35 0.45 0.37\\37 0.62 0.4\\}
{12 0.1 0.05\\13 -0.4 0.1\\14 0.0 0.12\\15 0.03 0.08\\17 0.05 0.08\\20 0.03 0.06\\22 0.0 0.08\\25 -0.05 0.05\\30 0.1 0.05\\35 0.45 0.06\\37 0.62 0.06\\}
\subp{-2.17}{0.89}{-2.0,-1.5,-1.0,-0.5,0,0.5}{1}{LL}
{0 -0.4 0.1\\1 0.0 0.2\\2 0.15 0.3\\3 0.15 0.33\\5 0.12 0.35\\8 0.1 0.35\\10 0.1 0.35\\12 0.12 0.35\\13 0.2 0.35\\14 0.35 0.35\\15 0.3 0.35\\17 0.2 0.35\\20 0.05 0.35\\23 0.1 0.35\\25 0.12 0.35\\28 0.1 0.37\\30 0.0 0.4\\33 -0.5 0.47\\35 -0.9 0.53\\37 -1.4 0.6\\}
{12 0.12 0.05\\13 0.3 0.1\\14 0.45 0.15\\15 0.3 0.12\\17 0.2 0.08\\20 0.0 0.12\\23 0.1 0.06\\25 0.12 0.05\\30 0.0 0.06\\35 -0.9 0.08\\37 -1.4 0.08\\}
\subp{-0.88}{0.9}{-0.75,-0.5,-0.25,0,0.25,0.5,0.75}{2}{LL}
{0 0.1 0.1\\2 0.2 0.2\\5 0.15 0.25\\8 0.2 0.28\\10 0.25 0.3\\12 0.3 0.3\\13 0.35 0.3\\15 0.35 0.3\\17 0.3 0.3\\20 0.3 0.3\\23 0.32 0.3\\25 0.3 0.3\\28 0.25 0.3\\30 0.1 0.32\\33 -0.15 0.36\\35 -0.3 0.4\\37 -0.42 0.43\\}
{12 0.3 0.05\\13 0.7 0.1\\14 0.3 0.12\\15 0.35 0.08\\17 0.3 0.06\\20 0.3 0.08\\25 0.3 0.05\\30 0.1 0.05\\35 -0.3 0.06\\37 -0.42 0.06\\}
\subp{-4.2}{0.05}{-4.0,-3.5,-3.0,-2.5,-2.0,-1.5,-1.0,-0.5,0}{1}{UR}
{0 0.0 0.05\\1 -0.8 0.1\\2 -1.4 0.12\\3 -1.8 0.13\\5 -2.3 0.14\\8 -2.7 0.15\\10 -2.85 0.15\\12 -2.95 0.15\\15 -3.05 0.15\\20 -3.1 0.15\\25 -3.1 0.15\\30 -3.15 0.15\\35 -3.2 0.15\\37 -3.15 0.15\\}
{12 -2.95 0.05\\14 -3.0 0.15\\16 -3.05 0.15\\18 -3.05 0.05\\25 -3.1 0.04\\37 -3.15 0.04\\}
\subp{-0.08}{1.92}{0,0.25,0.5,0.75,1.0,1.25,1.5,1.75}{2}{LR}
{0 0.0 0.05\\1 0.8 0.2\\2 1.2 0.25\\3 1.4 0.28\\5 1.45 0.3\\8 1.48 0.3\\10 1.5 0.3\\12 1.45 0.3\\13 1.5 0.3\\14 1.6 0.3\\15 1.55 0.3\\18 1.5 0.3\\20 1.5 0.3\\25 1.48 0.3\\30 1.45 0.3\\33 1.35 0.3\\35 1.25 0.3\\37 1.15 0.3\\}
{12 1.45 0.05\\13 1.5 0.1\\14 1.62 0.12\\15 1.55 0.1\\18 1.5 0.08\\20 1.5 0.08\\25 1.48 0.05\\30 1.45 0.05\\37 1.15 0.05\\}
\subp{-2.08}{0.5}{-2.0,-1.5,-1.0,-0.5,0,0.5}{1}{UR}
{0 0.0 0.05\\1 0.3 0.1\\2 0.05 0.15\\3 -0.1 0.18\\5 -0.25 0.2\\8 -0.35 0.2\\10 -0.4 0.2\\12 -0.45 0.2\\13 -0.4 0.2\\14 -0.45 0.2\\15 -0.5 0.2\\20 -0.5 0.2\\25 -0.5 0.2\\30 -0.55 0.22\\33 -0.8 0.28\\35 -1.1 0.33\\37 -1.45 0.4\\}
{12 -0.45 0.05\\13 -0.3 0.08\\14 -0.45 0.1\\15 -0.5 0.06\\20 -0.5 0.05\\25 -0.5 0.05\\30 -0.55 0.05\\35 -1.1 0.06\\37 -1.45 0.06\\}
\end{groupplot}
% page frame, trigger markers above each axis, and the cut edges of the panels
\coordinate (O) at ($(G c1r1.north west)+(-22pt,16pt)$);
\foreach \c in {1,...,8}{\foreach \r in {1,...,8}{
  \fill[bgc] ($(G c\c r\r.north west)+(39.6pt,0)$) rectangle ++(5.3pt,3.2pt);}}
\foreach \c in {1,...,7}{\fill[white] ($(O)+({172.8pt*\c-17.6pt},0)$) rectangle ++(17.6pt,-921.6pt);}
\foreach \r in {1,...,7}{\fill[white] ($(O)+(0,{-115.2pt*\r})$) rectangle ++(1382.4pt,-8pt);}
\pgfresetboundingbox
\path[use as bounding box] (O) rectangle ++(1382.4pt,-921.6pt);
\end{tikzpicture}
\end{document}
